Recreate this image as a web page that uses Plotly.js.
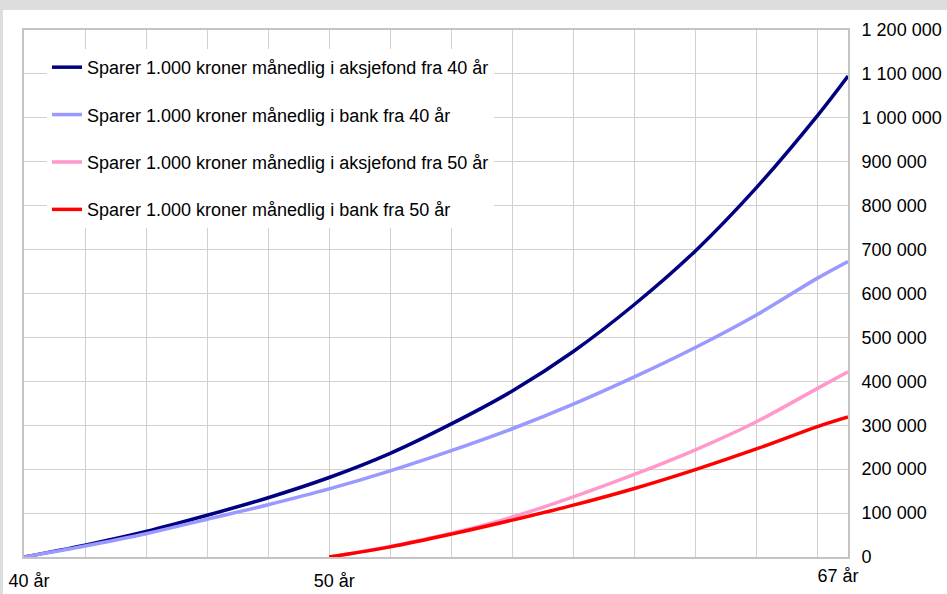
<!DOCTYPE html>
<html>
<head>
<meta charset="utf-8">
<script src="https://cdn.plot.ly/plotly-3.0.1.min.js"></script>
<style>
html,body{margin:0;padding:0;background:#dcdddd;width:947px;height:594px;overflow:hidden}
#panel{position:absolute;left:3px;top:10px;width:944px;height:584px;background:#fff}
#chart{position:absolute;left:0;top:10px;width:947px;height:584px}
</style>
</head>
<body>
<div id="panel"></div>
<div id="chart"></div>
<script>
// Ages (x) and accumulated savings (kroner)
const ages40 = [40,42,44,46,48,50,52,54,56,58,60,62,64,66,67];
const aksje40 = [0,27000,58000,95000,135000,181000,236000,303000,378000,468000,575000,697000,841000,1005000,1095000];
const bank40  = [0,25000,53000,86000,119000,155000,196000,242000,292000,348000,410000,477000,551000,635000,673000];
const ages50 = [50,52,54,56,58,60,62,64,66,67];
const aksje50 = [0,24000,54000,91000,137000,188000,244000,308000,384000,422000];
const bank50  = [0,23000,52000,84000,118000,156000,199000,246000,297000,319000];

const seriesNames = [
  "Sparer 1.000 kroner månedlig i aksjefond fra 40 år",
  "Sparer 1.000 kroner månedlig i bank fra 40 år",
  "Sparer 1.000 kroner månedlig i aksjefond fra 50 år",
  "Sparer 1.000 kroner månedlig i bank fra 50 år"
];
const seriesColors = ["#000080","#9999ff","#ff99cc","#ff0000"];

// gridlines every 2 years; labels at 40, 50 and 67
const xGridVals = [40,42,44,46,48,50,52,54,56,58,60,62,64,66,67];
const xGridText = ["40 år","","","","","50 år","","","","","","","","",""];
const xEndVals = [67];
const xEndText = ["67 år"];

const xs = [ages40, ages40, ages50, ages50];
const ys = [aksje40, bank40, aksje50, bank50];
// last series is placed on the overlaying x axis (same range) so that axis is drawn
const xAxisRefs = ["x", "x", "x", "x2"];

const FONT = "Liberation Sans, Arial, sans-serif";

const traces = ys.map((y, i) => ({
  type: "scatter",
  mode: "lines",
  x: xs[i],
  y: y,
  xaxis: xAxisRefs[i],
  yaxis: "y",
  name: seriesNames[i],
  legendgroup: "g" + i,
  line: {color: seriesColors[i], width: 3.5, shape: "spline", smoothing: 1},
  hoverinfo: "x+y"
}));

const layout = {
  width: 947,
  height: 584,
  margin: {l: 24, r: 99, t: 20, b: 37, pad: 0},
  paper_bgcolor: "rgba(0,0,0,0)",
  plot_bgcolor: "#ffffff",
  separators: ", ",
  font: {family: FONT, size: 18, color: "#000000"},
  showlegend: true,
  legend: {
    x: 0.0279, xanchor: "left",
    y: 0.964, yanchor: "top",
    bgcolor: "#ffffff",
    borderwidth: 0,
    tracegroupgap: 21,
    font: {family: FONT, size: 18, color: "#000000"}
  },
  xaxis: {
    range: [40, 67],
    tickmode: "array",
    tickvals: xGridVals,
    ticktext: xGridText,
    ticks: "",
    showgrid: true,
    gridcolor: "#d0d0d0",
    gridwidth: 1,
    zeroline: false,
    showline: true,
    linecolor: "#c4c4c4",
    linewidth: 2,
    mirror: true,
    ticklabelstandoff: 6,
    ticklabelshift: 5,
    ticklabeloverflow: "allow",
    tickfont: {family: FONT, size: 18, color: "#000000"},
    fixedrange: true
  },
  xaxis2: {
    overlaying: "x",
    anchor: "y",
    side: "bottom",
    range: [40, 67],
    tickmode: "array",
    tickvals: xEndVals,
    ticktext: xEndText,
    ticks: "",
    showgrid: false,
    zeroline: false,
    showline: false,
    ticklabelstandoff: 6,
    ticklabelshift: -10,
    ticklabeloverflow: "allow",
    tickfont: {family: FONT, size: 18, color: "#000000"},
    fixedrange: true
  },
  yaxis: {
    side: "right",
    range: [0, 1200000],
    dtick: 100000,
    tick0: 0,
    tickformat: ",d",
    ticks: "",
    showgrid: true,
    gridcolor: "#d0d0d0",
    gridwidth: 1,
    zeroline: false,
    showline: true,
    linecolor: "#c4c4c4",
    linewidth: 2,
    mirror: true,
    ticklabelstandoff: 8,
    tickfont: {family: FONT, size: 18, color: "#000000"},
    fixedrange: true
  }
};

Plotly.newPlot("chart", traces, layout, {displayModeBar: false, staticPlot: true});
</script>
</body>
</html>
